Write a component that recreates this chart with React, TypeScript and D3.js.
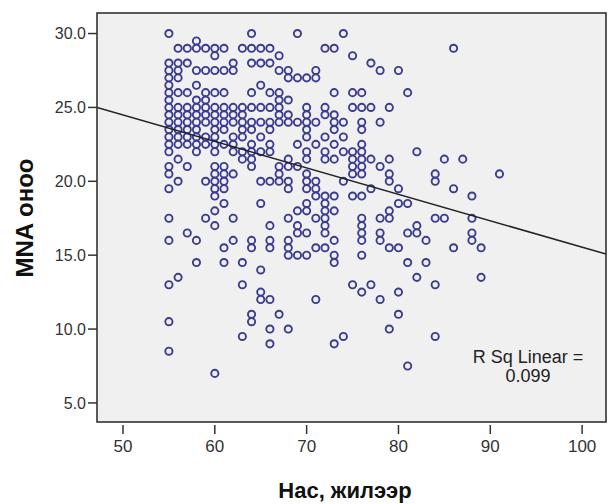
import React from 'react';
import * as d3 from 'd3';

// ages (x) and the MNA scores observed at each age (y)
const columnAges = [
  55, 56, 57, 58, 59, 60, 61, 62, 63, 64, 65, 66, 67, 68, 69, 70, 71, 72, 73,
  74, 75, 76, 77, 78, 79, 80, 81, 82, 83, 84, 85, 86, 87, 88, 89, 91,
];
const columnScores = [
  [30, 28, 27.5, 27, 26.5, 26, 25.5, 25, 24.5, 24, 23.5, 23, 22.5, 22, 21, 20.5, 19.5, 17.5, 16, 13, 10.5, 8.5],
  [29, 28, 27.5, 27, 26, 25, 24.5, 24, 23.5, 23, 22.5, 21.5, 20, 13.5],
  [29, 28, 26, 25, 24.5, 24, 23.5, 23, 22.5, 21, 16.5],
  [29.5, 29, 27.5, 26.5, 25.5, 25, 24.5, 24, 23.5, 23, 22.5, 22, 16, 14.5],
  [29, 27.5, 26, 25.5, 25, 24.5, 24, 23, 22.5, 20, 17.5],
  [29, 28.5, 27.5, 26, 25, 24.5, 24, 23.5, 23, 22.5, 22, 21, 20.5, 20, 19.5, 19, 18, 17, 7],
  [29, 27.5, 26, 25, 24.5, 24, 23.5, 22.5, 21, 20.5, 20, 19.5, 18.5, 15.5, 14.5],
  [28, 27.5, 25, 24.5, 24, 23, 22.5, 22, 20.5, 17.5, 16],
  [29, 25, 24.5, 24, 23.5, 23, 22, 21.5, 14.5, 13, 9.5],
  [30, 29, 28, 26, 25, 24, 23.5, 22.5, 22, 21.5, 21, 16, 15.5, 11, 10.5],
  [29, 28, 26.5, 25, 24, 23, 22, 20, 18.5, 14, 12.5, 12],
  [29, 28, 26, 25, 24, 23.5, 22.5, 22, 20, 17, 16, 15.5, 12, 10, 9],
  [28.5, 27.5, 26, 25.5, 25, 24.5, 24, 21, 20.5, 20, 11],
  [27.5, 27, 25.5, 24.5, 24, 21.5, 21, 20, 19.5, 17.5, 16, 15.5, 15, 10],
  [30, 27, 24, 22.5, 21, 18, 17, 16.5, 15],
  [27, 25, 24.5, 24, 23.5, 23, 22, 21.5, 20.5, 20, 19.5, 18.5, 18, 16.5, 15],
  [27.5, 27, 24, 22.5, 20, 19.5, 19, 17.5, 15.5, 12],
  [29, 25, 24.5, 23, 22, 21.5, 19, 18.5, 18, 17.5, 17, 16.5, 15.5],
  [29, 26, 24.5, 24, 23.5, 22.5, 21.5, 19, 18, 16, 15, 14.5, 9],
  [30, 24, 23, 22, 20, 9.5],
  [28.5, 26, 25, 22, 21.5, 21, 20.5, 19, 13],
  [26, 25, 24, 23.5, 22.5, 22, 21.5, 21, 20.5, 19, 17.5, 17, 16.5, 16, 15, 12.5],
  [28, 25, 21.5, 19.5, 13],
  [27.5, 24, 21, 17.5, 16.5, 16, 12],
  [25, 21.5, 20.5, 20, 18, 17.5, 15.5, 10],
  [27.5, 19.5, 18.5, 15.5, 12.5, 11],
  [26, 18.5, 16.5, 14.5, 7.5],
  [22, 17, 16.5, 13.5],
  [16, 14.5],
  [20.5, 20, 17.5, 13, 9.5],
  [21.5, 17.5],
  [29, 19.5, 15.5],
  [21.5],
  [19, 17.5, 16.5, 16],
  [15.5, 13.5],
  [20.5],
];

const xTicks = [50, 60, 70, 80, 90, 100];
const yTicks = [5, 10, 15, 20, 25, 30];

// fit line
const fitIntercept = 33.44;
const fitSlope = -0.179;
const rSquared = '0.099';

const FONT = '"Liberation Sans", Arial, sans-serif';

export default function App() {
  const width = 608;
  const height = 504;
  const plot = { left: 97, right: 606, top: 13, bottom: 422 };

  const x = d3.scaleLinear().domain([47.17, 102.6]).range([plot.left, plot.right]);
  const y = d3.scaleLinear().domain([3.71, 31.39]).range([plot.bottom, plot.top]);

  const points = columnAges.flatMap((age, i) => columnScores[i].map((s) => [age, s]));

  const [x0, x1] = x.domain();
  const fitPath = d3.line<number>()
    .x((d) => x(d))
    .y((d) => y(fitIntercept + fitSlope * d))([x0, x1]);

  return (
    <svg
      width={width}
      height={height}
      style={{ position: 'absolute', left: 0, top: 0, background: '#fff' }}
      fontFamily={FONT}
    >
      <defs>
        <clipPath id="plotClip">
          <rect x={plot.left} y={plot.top} width={plot.right - plot.left} height={plot.bottom - plot.top} />
        </clipPath>
      </defs>
      <rect
        x={plot.left}
        y={plot.top}
        width={plot.right - plot.left}
        height={plot.bottom - plot.top}
        fill="#f0f0f0"
      />

      {/* points */}
      <g clipPath="url(#plotClip)">
        {points.map(([a, s], i) => (
          <circle
            key={i}
            cx={x(a)}
            cy={y(s)}
            r={3.6}
            fill="#eeeef6"
            stroke="#3c3c8e"
            strokeWidth={1.9}
          />
        ))}
        <path d={fitPath || ''} stroke="#222" strokeWidth={1.5} fill="none" />
      </g>

      <rect
        x={plot.left}
        y={plot.top}
        width={plot.right - plot.left}
        height={plot.bottom - plot.top}
        fill="none"
        stroke="#333"
        strokeWidth={1.6}
      />

      {/* y axis */}
      {yTicks.map((t) => (
        <g key={t}>
          <line x1={plot.left - 9} x2={plot.left} y1={y(t)} y2={y(t)} stroke="#333" strokeWidth={1.5} />
          <text x={plot.left - 11} y={y(t)} dy="0.36em" textAnchor="end" fontSize={16} fill="#333">
            {d3.format('.1f')(t)}
          </text>
        </g>
      ))}

      {/* x axis */}
      {xTicks.map((t) => (
        <g key={t}>
          <line x1={x(t)} x2={x(t)} y1={plot.bottom + 3} y2={plot.bottom + 12} stroke="#333" strokeWidth={1.5} />
          <text x={x(t)} y={452} textAnchor="middle" fontSize={17} fill="#333">
            {t}
          </text>
        </g>
      ))}

      <text x={345} y={498} textAnchor="middle" fontSize={22} fontWeight="bold" fill="#111">
        Нас, жилээр
      </text>
      <text
        transform="translate(33,218) rotate(-90)"
        textAnchor="middle"
        fontSize={24}
        fontWeight="bold"
        fill="#111"
      >
        MNA оноо
      </text>

      <text x={528} y={363} textAnchor="middle" fontSize={18} fill="#222">
        R Sq Linear =
      </text>
      <text x={528} y={382} textAnchor="middle" fontSize={18} fill="#222">
        {rSquared}
      </text>
    </svg>
  );
}
